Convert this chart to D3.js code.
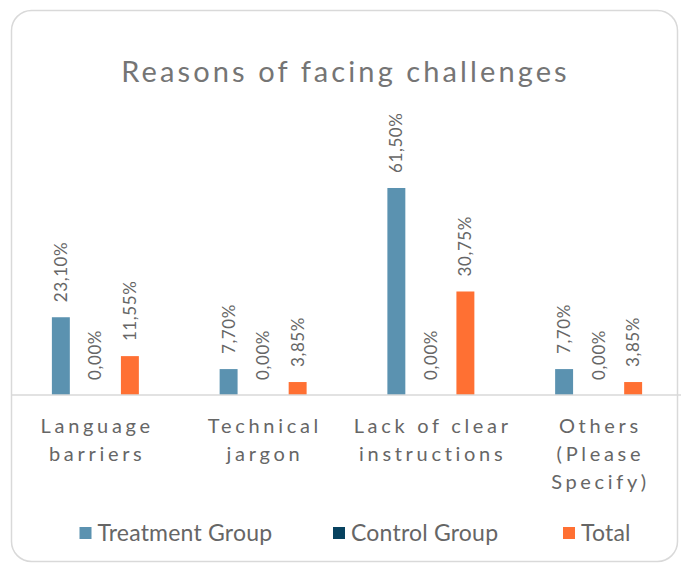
<!DOCTYPE html>
<html lang="en">
<head>
    <meta charset="UTF-8">
    <title>Reasons of facing challenges</title>
    <script src="https://d3js.org/d3.v7.min.js"></script>
    <style>
        body {
            margin: 0;
            background: #fff;
            font-family: Lato, "Open Sans", sans-serif;
        }
        .label { fill: #666; font-size: 17px; letter-spacing: 0.6px; }
        .cat { fill: #666; font-size: 20px; letter-spacing: 3.7px; }
        .legend text { fill: #666; font-size: 23px; letter-spacing: 0.2px; }
    </style>
</head>
<body>
    <svg id="chart" width="681" height="563"></svg>

    <script>
        // data
        const categories = ["Language barriers", "Technical jargon", "Lack of clear instructions", "Others (Please Specify)"];
        const categoryLines = [["Language", "barriers"], ["Technical", "jargon"], ["Lack of clear", "instructions"], ["Others", "(Please", "Specify)"]];
        const seriesNames = ["Treatment Group", "Control Group", "Total"];
        const treatment = [23.10, 7.70, 61.50, 7.70];
        const control = [0.00, 0.00, 0.00, 0.00];
        const total = [11.55, 3.85, 30.75, 3.85];
        const colors = ["#5b92b0", "#07425f", "#ff7033"];

        const series = [treatment, control, total];

        const svg = d3.select("#chart");
        const baseY = 395;

        // card background
        svg.append("rect")
            .attr("x", 11.5).attr("y", 10.5)
            .attr("width", 666).attr("height", 551)
            .attr("rx", 20)
            .attr("fill", "#fff")
            .attr("stroke", "#d9d9d9")
            .attr("stroke-width", 1.5);

        // title
        svg.append("text")
            .attr("x", 345.5).attr("y", 82)
            .attr("text-anchor", "middle")
            .attr("fill", "#757575")
            .style("font-size", "29px")
            .style("letter-spacing", "3.1px")
            .text("Reasons of facing challenges");

        const x = d3.scaleBand()
            .domain(categories)
            .range([11.5, 682.5]);

        const xs = d3.scaleBand()
            .domain(seriesNames)
            .range([0, x.bandwidth()])
            .paddingInner(0.48)
            .paddingOuter(1.17);

        const y = d3.scaleLinear()
            .domain([0, 70])
            .range([baseY, baseY - 70 * 3.366]);

        const rows = [];
        categories.forEach((c, i) => {
            seriesNames.forEach((s, j) => {
                rows.push({cat: c, name: s, value: series[j][i], color: colors[j]});
            });
        });

        // bars
        svg.selectAll(".bar")
            .data(rows)
            .enter().append("rect")
            .attr("class", "bar")
            .attr("x", d => x(d.cat) + xs(d.name))
            .attr("y", d => y(d.value))
            .attr("width", xs.bandwidth())
            .attr("height", d => baseY - y(d.value))
            .attr("fill", d => d.color);

        // axis line
        svg.append("line")
            .attr("x1", 11).attr("x2", 681)
            .attr("y1", baseY).attr("y2", baseY)
            .attr("stroke", "#d9d9d9")
            .attr("stroke-width", 1.5);

        // value labels
        svg.selectAll(".label")
            .data(rows)
            .enter().append("text")
            .attr("class", "label")
            .attr("transform", d => {
                const cx = x(d.cat) + xs(d.name) + xs.bandwidth() / 2;
                return `translate(${cx},${y(d.value) - 15}) rotate(-90)`;
            })
            .attr("dy", "0.35em")
            .text(d => d.value.toFixed(2).replace(".", ",") + "%");

        // category labels
        categories.forEach((c, i) => {
            const t = svg.append("text")
                .attr("class", "cat")
                .attr("text-anchor", "middle");
            categoryLines[i].forEach((line, k) => {
                t.append("tspan")
                    .attr("x", x(c) + x.bandwidth() / 2 + 1.8)
                    .attr("y", 433 + k * 28)
                    .text(line);
            });
        });

        // legend
        const legendX = [79.5, 333, 563];
        const legend = svg.append("g").attr("class", "legend");
        seriesNames.forEach((s, j) => {
            legend.append("rect")
                .attr("x", legendX[j]).attr("y", 527)
                .attr("width", 12).attr("height", 12)
                .attr("fill", colors[j]);
            legend.append("text")
                .attr("x", legendX[j] + 18).attr("y", 541)
                .text(s);
        });
    </script>
</body>
</html>
